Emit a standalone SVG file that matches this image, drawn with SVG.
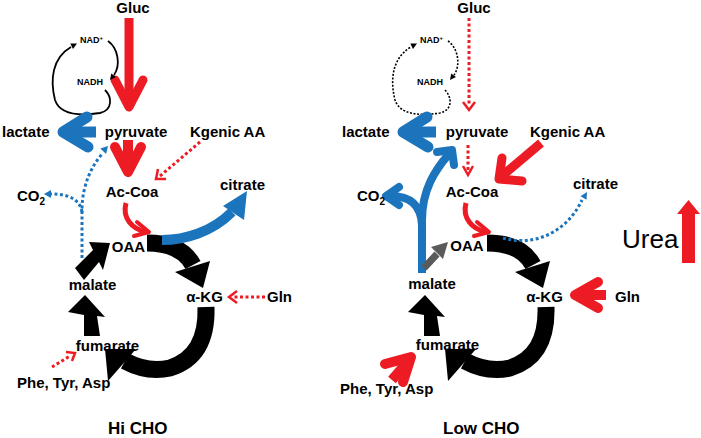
<svg xmlns="http://www.w3.org/2000/svg" width="701" height="438" viewBox="0 0 701 438">
<style>
text{font-family:"Liberation Sans",Arial,sans-serif;font-weight:bold;font-size:15px;fill:#000}
.sm{font-size:9px}
.ttl{font-size:17px}
.urea{font-size:26px;font-weight:normal}
.mid{text-anchor:middle}
.red{stroke:#ED1C24;fill:none}
.blue{stroke:#1C75BC;fill:none}
.blk{stroke:#000;fill:none}
.thick{stroke-linecap:round;stroke-linejoin:round}
.dot{stroke-width:3;stroke-dasharray:3 2.5}
.dotk{stroke-width:1.6;stroke-dasharray:2 1.6}
.band{stroke:#000;fill:none;stroke-width:17}
.fk{fill:#000}
.fb{fill:#1C75BC}
</style>
<defs>
<g id="tca">
<path class="band" d="M147,243 C170,243 185,250 193,265"/>
<polygon class="fk" points="175,272 210,261 203,288"/>
<path class="band" d="M206,307 C207,340 195,360 170,368 C152,372 138,368 125,361"/>
<polygon class="fk" points="105,349 136,349 108,381"/>
<polygon class="fk" points="84,336 84,315 68,312 85,295 105,317 97,316 100,336"/>
</g>
<g id="acoaa">
<path class="red" stroke-width="5" d="M126,203 C122,218 132,229 146,232"/>
<polyline class="red thick" stroke-width="4" points="137,222 149,232 134,236"/>
</g>
<g id="lact">
<path class="blue" stroke-width="11" d="M96,132 H66"/>
<polyline class="blue thick" stroke-width="11" points="87,117 63,132 88,147"/>
</g>
</defs>

<g id="connectors">
<!-- Hi CHO -->
<path class="red" stroke-width="9" d="M129,18 V104"/>
<polyline class="red thick" stroke-width="9" points="115,80 129,107 143,80"/>
<path class="blk" stroke-width="1.8" d="M105,90 C112,97 113,110 100,113 C80,116 60,115 55,100 C50,80 52,58 71,47"/>
<polygon class="fk" points="77,43.5 70.3,43.5 73,48.9"/>
<path class="blk" stroke-width="1.8" d="M108,41 C118,48 121,65 114,75"/>
<polygon class="fk" points="110,80 116,77 111.2,73.4"/>
<use href="#lact"/>
<path class="red" stroke-width="10" d="M128,140 V170"/>
<polyline class="red thick" stroke-width="10" points="115,147 128,172 141,147"/>
<path class="red dot" d="M200,142 L160,176"/>
<polyline class="red" stroke-width="2.5" points="158,169 156,179 166,179"/>
<path class="blue dot" d="M82,258 V210 C82,185 92,165 103,153"/>
<polygon class="fb" points="108,146 106.1,153.9 100.3,148.5"/>
<path class="blue dot" d="M82,212 C80,200 70,194 51,194"/>
<polygon class="fb" points="44,194 51,190 51,198"/>
<use href="#tca"/>
<polygon class="fk" points="75,268 93,250 89,242 110,243 103,270 99,262 84,280"/>
<path class="blue" stroke-width="10" d="M162,240 C185,240 212,232 232,212"/>
<polygon class="fb" points="247,191 223,206 244,220"/>
<use href="#acoaa"/>
<path class="red dot" d="M265,297 H232"/>
<polyline class="red" stroke-width="2.5" points="237,291 229,297 237,303"/>
<path class="red dot" d="M52,367 L70,356"/>
<polyline class="red" stroke-width="2.5" points="66,352 75,353 72,361"/>

<!-- Low CHO -->
<path class="red dot" d="M469,18 V106"/>
<polyline class="red" stroke-width="2.5" points="463,102 469,110 475,102"/>
<path class="blk dotk" d="M445,90 C452,97 453,110 440,113 C420,116 400,115 395,100 C390,80 392,58 411,47"/>
<polygon class="fk" points="417,43.5 410.3,43.5 413,48.9"/>
<path class="blk dotk" d="M448,41 C458,48 461,65 454,75"/>
<polygon class="fk" points="450,80 456,77 451.2,73.4"/>
<use href="#lact" transform="translate(340,0)"/>
<path class="red dot" d="M468,145 V172"/>
<polyline class="red" stroke-width="2.5" points="463,166 468,175 473,166"/>
<path class="red" stroke-width="9" d="M541,143 L503,175"/>
<polyline class="red thick" stroke-width="9" points="502,158 499,179 522,181"/>
<path class="blue" stroke-width="8" d="M422,273 V220 C422,190 435,170 449,154"/>
<polyline class="blue thick" stroke-width="8" points="437,152 452,150 454,165"/>
<path class="blue" stroke-width="8" d="M422,225 C421,205 410,196 390,196"/>
<polyline class="blue thick" stroke-width="8" points="399,187 386,196 399,205"/>
<path stroke="#5a5a5a" stroke-width="7" fill="none" d="M424,268 L437,254"/>
<polygon fill="#5a5a5a" points="431,247 448,242 443,259"/>
<use href="#tca" transform="translate(340,0)"/>
<use href="#acoaa" transform="translate(340,0)"/>
<path class="blue dot" d="M503,238 C530,246 565,236 582,200"/>
<polygon class="fb" points="587,192 586.5,199.8 580.5,196.3"/>
<path class="red" stroke-width="10" d="M606,295 H577"/>
<polyline class="red thick" stroke-width="10" points="598,282 575,295 598,308"/>
<path class="red" stroke-width="10" d="M392,380 L409,360"/>
<polyline class="red thick" stroke-width="10" points="385,364 411,357 403,382"/>
<rect x="682" y="213" width="13" height="50" fill="#ED1C24"/>
<polygon fill="#ED1C24" points="677,214 700,214 688.5,200"/>
</g>

<g id="n-gluc-hi"><text class="mid" x="133" y="13">Gluc</text></g>
<g id="n-nad-hi"><text class="sm" x="80" y="43">NAD<tspan font-size="6" dy="-3">+</tspan></text></g>
<g id="n-nadh-hi"><text class="sm" x="77" y="85">NADH</text></g>
<g id="n-lactate-hi"><text x="2" y="137">lactate</text></g>
<g id="n-pyruvate-hi"><text class="mid" x="136" y="137">pyruvate</text></g>
<g id="n-kgenic-hi"><text x="190" y="137">Kgenic AA</text></g>
<g id="n-acoa-hi"><text class="mid" x="132" y="197">Ac-Coa</text></g>
<g id="n-citrate-hi"><text x="220" y="190">citrate</text></g>
<g id="n-co2-hi"><text x="17" y="201">CO<tspan font-size="10" dy="4">2</tspan></text></g>
<g id="n-oaa-hi"><text class="mid" x="128.5" y="252">OAA</text></g>
<g id="n-malate-hi"><text class="mid" x="92.5" y="290">malate</text></g>
<g id="n-akg-hi"><text class="mid" x="204.5" y="302">α-KG</text></g>
<g id="n-gln-hi"><text x="267" y="302">Gln</text></g>
<g id="n-fumarate-hi"><text class="mid" x="107.5" y="351">fumarate</text></g>
<g id="n-phe-hi"><text x="17" y="388">Phe, Tyr, Asp</text></g>
<g id="t-hi"><text class="ttl" x="108" y="434">Hi CHO</text></g>

<g id="n-gluc-lo"><text class="mid" x="474" y="13">Gluc</text></g>
<g id="n-nad-lo"><text class="sm" x="420" y="43">NAD<tspan font-size="6" dy="-3">+</tspan></text></g>
<g id="n-nadh-lo"><text class="sm" x="417" y="85">NADH</text></g>
<g id="n-lactate-lo"><text x="342" y="137">lactate</text></g>
<g id="n-pyruvate-lo"><text class="mid" x="477" y="137">pyruvate</text></g>
<g id="n-kgenic-lo"><text x="530" y="137">Kgenic AA</text></g>
<g id="n-acoa-lo"><text class="mid" x="472" y="197">Ac-Coa</text></g>
<g id="n-citrate-lo"><text x="573" y="189">citrate</text></g>
<g id="n-co2-lo"><text x="357" y="201">CO<tspan font-size="10" dy="4">2</tspan></text></g>
<g id="n-oaa-lo"><text class="mid" x="467" y="251">OAA</text></g>
<g id="n-malate-lo"><text class="mid" x="432" y="289">malate</text></g>
<g id="n-akg-lo"><text class="mid" x="544.5" y="302">α-KG</text></g>
<g id="n-gln-lo"><text x="615" y="302">Gln</text></g>
<g id="n-fumarate-lo"><text class="mid" x="447.5" y="350">fumarate</text></g>
<g id="n-phe-lo"><text x="340" y="394">Phe, Tyr, Asp</text></g>
<g id="t-lo"><text class="ttl" x="443" y="434">Low CHO</text></g>
<g id="n-urea"><text class="urea" x="622" y="248">Urea</text></g>
</svg>
